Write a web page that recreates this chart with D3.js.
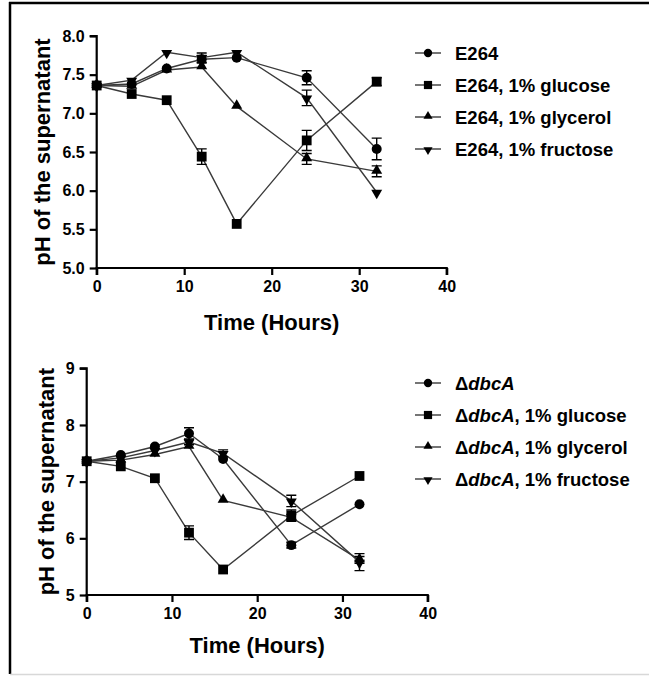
<!DOCTYPE html>
<html><head><meta charset="utf-8">
<script src="https://cdn.jsdelivr.net/npm/d3@7"></script>
<style>
html,body{margin:0;padding:0;background:#fff;}
svg text{font-family:"Liberation Sans",Arial,sans-serif;font-weight:bold;fill:#000;}
</style></head>
<body>
<svg id="c" width="649" height="676"></svg>
<script>
const times = [0, 4, 8, 12, 16, 24, 32];

// Top panel (E264)
const topNames = ["E264", "E264, 1% glucose", "E264, 1% glycerol", "E264, 1% fructose"];
const topPlain = [7.36, 7.38, 7.58, 7.70, 7.72, 7.46, 6.54];
const topGlucose = [7.36, 7.25, 7.17, 6.44, 5.57, 6.65, 7.41];
const topGlycerol = [7.36, 7.35, 7.56, 7.60, 7.09, 6.41, 6.25];
const topFructose = [7.36, 7.43, 7.79, 7.72, 7.79, 7.20, 5.98];
const topPlainErr = [0, 0.03, 0.03, 0.05, 0.04, 0.09, 0.14];
const topGlucoseErr = [0, 0.03, 0.02, 0.10, 0.02, 0.13, 0.05];
const topGlycerolErr = [0, 0.02, 0.03, 0.04, 0.02, 0.07, 0.07];
const topFructoseErr = [0, 0.03, 0.02, 0.06, 0.03, 0.10, 0.02];
const topYTicks = [5.0, 5.5, 6.0, 6.5, 7.0, 7.5, 8.0];

// Bottom panel (ΔdbcA)
const botNames = ["", ", 1% glucose", ", 1% glycerol", ", 1% fructose"];
const botPlain = [7.36, 7.47, 7.62, 7.85, 7.40, 5.88, 6.60];
const botGlucose = [7.36, 7.27, 7.06, 6.10, 5.45, 6.40, 7.10];
const botGlycerol = [7.36, 7.38, 7.48, 7.62, 6.67, 6.37, 5.62];
const botFructose = [7.36, 7.42, 7.55, 7.70, 7.50, 6.66, 5.58];
const botPlainErr = [0, 0.03, 0.03, 0.10, 0.04, 0.05, 0.03];
const botGlucoseErr = [0, 0.03, 0.03, 0.12, 0.03, 0.10, 0.03];
const botGlycerolErr = [0, 0.02, 0.03, 0.04, 0.02, 0.05, 0.06];
const botFructoseErr = [0, 0.03, 0.03, 0.05, 0.06, 0.10, 0.15];
const botYTicks = [5, 6, 7, 8, 9];

const xTicks = [0, 10, 20, 30, 40];
const shapes = ["circle", "square", "up", "down"];

const svg = d3.select("#c");

// frame
svg.append("line").attr("x1", 9).attr("x2", 649).attr("y1", 3).attr("y2", 3).attr("stroke", "#000").attr("stroke-width", 2.5);
svg.append("line").attr("x1", 10).attr("x2", 10).attr("y1", 2).attr("y2", 674).attr("stroke", "#000").attr("stroke-width", 2.5);
svg.append("line").attr("x1", 10).attr("x2", 649).attr("y1", 674.5).attr("y2", 674.5).attr("stroke", "#d8d8d8").attr("stroke-width", 1.5);

function marker(g, shape, x, y, sc) {
  const k = sc || 1;
  let p;
  if (shape === "down") {
    p = g.append("path").attr("d", d3.symbol(d3.symbolTriangle, 52 * k)()).attr("transform", `translate(${x},${y + 0.8}) rotate(180)`);
  } else if (shape === "up") {
    p = g.append("path").attr("d", d3.symbol(d3.symbolTriangle, 52 * k)()).attr("transform", `translate(${x},${y - 0.8})`);
  } else if (shape === "square") {
    p = g.append("path").attr("d", d3.symbol(d3.symbolSquare, 96 * k)()).attr("transform", `translate(${x},${y})`);
  } else {
    p = g.append("path").attr("d", d3.symbol(d3.symbolCircle, 78 * k)()).attr("transform", `translate(${x},${y})`);
  }
  p.attr("fill", "#000");
}

function panel(cfg) {
  const g = svg.append("g");
  const x = d3.scaleLinear().domain([0, 40]).range([cfg.x0, cfg.x1]);
  const y = d3.scaleLinear().domain(cfg.ydom).range([cfg.yb, cfg.yt]);

  const xa = g.append("g").attr("transform", `translate(0,${cfg.yb})`)
    .call(d3.axisBottom(x).tickValues(xTicks).tickSize(7).tickPadding(6).tickFormat(d3.format("d")));
  const ya = g.append("g").attr("transform", `translate(${cfg.x0},0)`)
    .call(d3.axisLeft(y).tickValues(cfg.yticks).tickSize(7).tickPadding(5).tickFormat(d3.format(cfg.yfmt)));
  [xa, ya].forEach(a => {
    a.select(".domain").attr("stroke", "#000").attr("stroke-width", 2.2);
    a.selectAll(".tick line").attr("stroke", "#000").attr("stroke-width", 2.2);
    a.selectAll("text").style("font-size", "16px").style("font-weight", "bold").attr("fill", "#000");
  });
  ya.select(".domain").attr("d", `M-7,${cfg.yt}H0V${cfg.yb}`);
  xa.select(".domain").attr("d", `M${cfg.x0},7V0H${cfg.x1}V7`);

  g.append("text").attr("x", (cfg.x0 + cfg.x1) / 2).attr("y", cfg.xtitleY).attr("text-anchor", "middle")
    .style("font-size", "22px").text("Time (Hours)");
  g.append("text").attr("transform", `translate(${cfg.ytitleX},${(cfg.yt + cfg.yb) / 2}) rotate(-90)`)
    .attr("text-anchor", "middle").style("font-size", "22px").text("pH of the supernatant");

  const line = d3.line().x((d, i) => x(times[i])).y(d => y(d));
  cfg.series.forEach((s, k) => {
    g.append("path").datum(s.v).attr("d", line).attr("fill", "none").attr("stroke", "#3a3a3a").attr("stroke-width", 1.4);
  });
  cfg.series.forEach((s, k) => {
    s.v.forEach((v, i) => {
      const e = s.e[i];
      if (e > 0.04) {
        const cx = x(times[i]);
        g.append("path").attr("d", `M${cx - 5},${y(v + e)}H${cx + 5}M${cx},${y(v + e)}V${y(v - e)}M${cx - 5},${y(v - e)}H${cx + 5}`)
          .attr("stroke", "#000").attr("stroke-width", 1.4).attr("fill", "none");
      }
    });
  });
  cfg.series.forEach((s, k) => {
    s.v.forEach((v, i) => marker(g, shapes[k], x(times[i]), y(v)));
  });

  // legend
  cfg.series.forEach((s, k) => {
    const ly = cfg.legY + k * 32;
    g.append("line").attr("x1", 415).attr("x2", 441).attr("y1", ly).attr("y2", ly).attr("stroke", "#3a3a3a").attr("stroke-width", 1.4);
    marker(g, shapes[k], 428, ly, 0.7);
    const t = g.append("text").attr("x", 455).attr("y", ly + 6.5).style("font-size", "18.5px");
    cfg.label(t, k);
  });
}

panel({
  x0: 96.7, x1: 446.7, yb: 268, yt: 36, ydom: [5, 8], yticks: topYTicks, yfmt: ".1f",
  xtitleY: 330, ytitleX: 50, legY: 53,
  series: [
    {v: topPlain, e: topPlainErr},
    {v: topGlucose, e: topGlucoseErr},
    {v: topGlycerol, e: topGlycerolErr},
    {v: topFructose, e: topFructoseErr}
  ],
  label: (t, k) => t.text(topNames[k])
});

panel({
  x0: 86.7, x1: 427.7, yb: 595, yt: 368.3, ydom: [5, 9], yticks: botYTicks, yfmt: "d",
  xtitleY: 653, ytitleX: 54, legY: 383,
  series: [
    {v: botPlain, e: botPlainErr},
    {v: botGlucose, e: botGlucoseErr},
    {v: botGlycerol, e: botGlycerolErr},
    {v: botFructose, e: botFructoseErr}
  ],
  label: (t, k) => {
    t.append("tspan").text("\u0394");
    t.append("tspan").style("font-style", "italic").text("dbcA");
    if (botNames[k]) t.append("tspan").text(botNames[k]);
  }
});
</script>
</body></html>
